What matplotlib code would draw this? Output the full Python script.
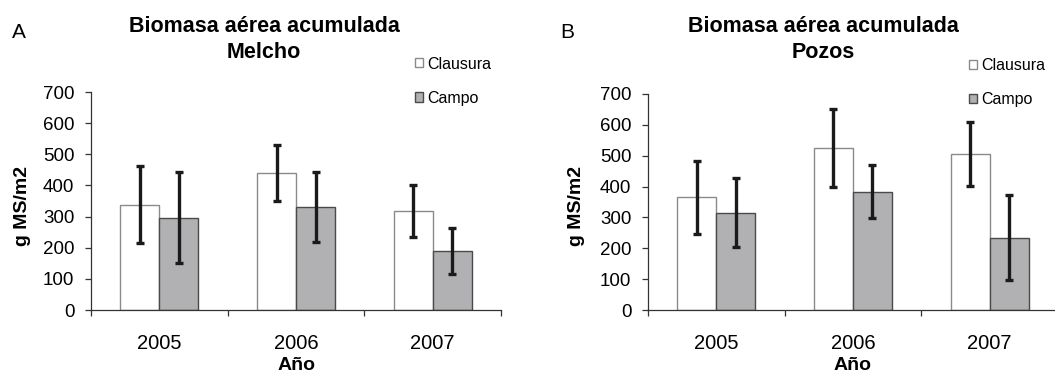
import numpy as np
import matplotlib
matplotlib.use("Agg")
import matplotlib.pyplot as plt

plt.rcParams['font.family'] = ['Liberation Sans', 'DejaVu Sans']

years = ['2005', '2006', '2007']
series = ['Clausura', 'Campo']

# Melcho (A)
melcho_clausura = [338, 440, 318]
melcho_clausura_err = [123, 89, 83]
melcho_campo = [296, 330, 189]
melcho_campo_err = [146, 113, 73]

# Pozos (B)
pozos_clausura = [365, 524, 506]
pozos_clausura_err = [117, 127, 103]
pozos_campo = [315, 383, 234]
pozos_campo_err = [111, 86, 137]

fig = plt.figure(figsize=(10.55, 3.74), dpi=100)

def panel(rect, clausura, clausura_err, campo, campo_err, letter, title, tx, leg_x, ylab_x):
    ax = fig.add_axes(rect)
    x = np.arange(len(years))
    w = 0.285
    ax.bar(x - w/2, clausura, w, color='white', edgecolor='#8a8a8a', linewidth=1.0,
           label=series[0], zorder=2)
    ax.bar(x + w/2, campo, w, color='#b1b1b4', edgecolor='#4a4a4a', linewidth=1.0,
           label=series[1], zorder=2)
    ax.errorbar(x - w/2, clausura, yerr=clausura_err, fmt='none', ecolor='#1a1a1a',
                elinewidth=2.4, capsize=2.8, capthick=2.4, zorder=3)
    ax.errorbar(x + w/2, campo, yerr=campo_err, fmt='none', ecolor='#1a1a1a',
                elinewidth=2.4, capsize=2.8, capthick=2.4, zorder=3)
    ax.set_xlim(-0.5, 2.5)
    ax.set_ylim(0, 700)
    ax.set_yticks(range(0, 701, 100))
    ax.set_xticks([-0.5, 0.5, 1.5, 2.5])
    ax.set_xticklabels([])
    ax.set_xticks(x, minor=True)
    ax.set_xticklabels(years, minor=True, fontsize=14.5)
    ax.tick_params(axis='x', which='major', direction='out', length=4, color='#333333', width=0.9)
    ax.tick_params(axis='x', which='minor', length=0, pad=17)
    ax.tick_params(axis='y', direction='out', length=4, color='#333333', width=0.9,
                   labelsize=13.5, pad=8)
    for s in ['top', 'right']:
        ax.spines[s].set_visible(False)
    for s in ['left', 'bottom']:
        ax.spines[s].set_color('#333333')
        ax.spines[s].set_linewidth(0.9)
    ax.legend(loc='center left', bbox_to_anchor=(leg_x, 1.05), frameon=False,
              fontsize=11.5, handlelength=0.5, handleheight=0.5,
              handletextpad=0.25, labelspacing=1.2, borderaxespad=0)
    fig.text(letter[1], 0.8975, letter[0], fontsize=15, ha='left', va='baseline')
    fig.text(tx, 0.9136, 'Biomasa aérea acumulada', fontsize=15.5, fontweight='bold',
             ha='center', va='baseline')
    fig.text(tx, 0.845, title, fontsize=15.5, fontweight='bold', ha='center', va='baseline')
    fig.text(ylab_x, 0.449, 'g MS/m2', fontsize=14, fontweight='bold', rotation=90,
             ha='center', va='center')
    fig.text(rect[0] + rect[2] * 0.5, 0.012, 'Año', fontsize=14, fontweight='bold',
             ha='center', va='baseline')
    return ax

panel([0.0863, 0.1711, 0.3886, 0.5829], melcho_clausura, melcho_clausura_err,
      melcho_campo, melcho_campo_err, ('A', 0.0114), 'Melcho', 0.2502, 0.775, 0.0218)
panel([0.6142, 0.1703, 0.3886, 0.5792], pozos_clausura, pozos_clausura_err,
      pozos_campo, pozos_campo_err, ('B', 0.5308), 'Pozos', 0.7804, 0.768, 0.5465)

fig.savefig('out.png', dpi=100)
